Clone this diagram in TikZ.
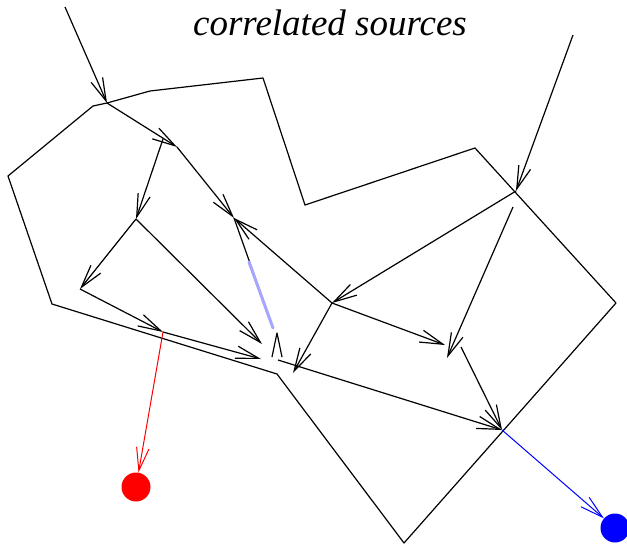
\documentclass[tikz,border=0pt]{standalone}
\usepackage{fontspec}
\setmainfont{Liberation Serif}
\usetikzlibrary{arrows.meta}
\begin{document}
\begin{tikzpicture}[x=1pt,y=-1pt,
  edge/.style={line width=1.2pt,line join=round,-{Straight Barb[length=23pt,width=12.5pt]}},
  plain/.style={line width=1.2pt,line join=round},
  redge/.style={red,line width=1pt,-{Straight Barb[length=23pt,width=12.5pt]}},
  bedge/.style={blue,line width=1pt,-{Straight Barb[length=23pt,width=12.5pt]}},
  sink/.style={circle,inner sep=0pt,minimum size=29pt}]
\useasboundingbox (0,0) rectangle (627,546);
% outline
\coordinate (p1) at (8,176);
\coordinate (p2) at (93,106);
\coordinate (A) at (107,103);
\coordinate (p3) at (150,91);
\coordinate (p4) at (263,78);
\coordinate (p5) at (305,205);
\coordinate (p6) at (475,148);
\coordinate (p7) at (616,303);
\coordinate (p8) at (404,543);
\coordinate (p9) at (277,374);
\coordinate (p10) at (52,304);
\draw[plain] (p1) -- (p2) -- (A) -- (p3) -- (p4) -- (p5) -- (p6) -- (p7) -- (p8) -- (p9) -- (p10) -- cycle;
% points
\coordinate (s1) at (65,7);
\coordinate (s2) at (573,35);
\coordinate (B) at (177,147);
\coordinate (Cs) at (163,139);
\coordinate (C) at (136,219);
\coordinate (D) at (234,218);
\coordinate (E) at (80,289);
\coordinate (F) at (163,332);
\coordinate (Hc) at (262,344);
\coordinate (Hf) at (261,359);
\coordinate (Hs) at (278,360);
\coordinate (Db) at (273,328);
\coordinate (Dm) at (249,262);
\coordinate (G) at (332,303);
\coordinate (I) at (516,191);
\coordinate (Is) at (513,207);
\coordinate (J) at (447,358);
\coordinate (K) at (445,345);
\coordinate (L) at (293,373);
\coordinate (Ns) at (461,347);
\coordinate (M) at (502,430);
\coordinate (Lt) at (277,333);
\coordinate (Ll) at (272,357);
\coordinate (Lr) at (282,357);
\node[sink,fill=red] (red) at (136,487) {};
\node[sink,fill=blue] (blue) at (615,528) {};
% title
\node[anchor=base,inner sep=0pt,font=\fontsize{37}{42}\selectfont\itshape] (title) at (330,35) {correlated sources};
% edges
\draw[edge] (s1) -- (A);
\draw[edge] (A) -- (B);
\draw[edge] (Cs) -- (C);
\draw[edge] (B) -- (D);
\draw[edge] (C) -- (E);
\draw[edge] (C) -- (Hc);
\draw[edge] (E) -- (F);
\draw[edge] (F) -- (Hf);
\draw[redge] (F) -- (red);
\draw[plain] (D) -- (Db);
\draw[blue!35,line width=3pt,line cap=round] (Dm) -- (Db);
\draw[plain] (Ll) -- (Lt) -- (Lr);
\draw[edge] (G) -- (D);
\draw[edge] (I) -- (G);
\draw[edge] (s2) -- (I);
\draw[edge] (Is) -- (J);
\draw[edge] (G) -- (K);
\draw[edge] (G) -- (L);
\draw[edge] (Hs) -- (M);
\draw[edge] (Ns) -- (M);
\draw[bedge] (M) -- (blue);
\end{tikzpicture}
\end{document}
